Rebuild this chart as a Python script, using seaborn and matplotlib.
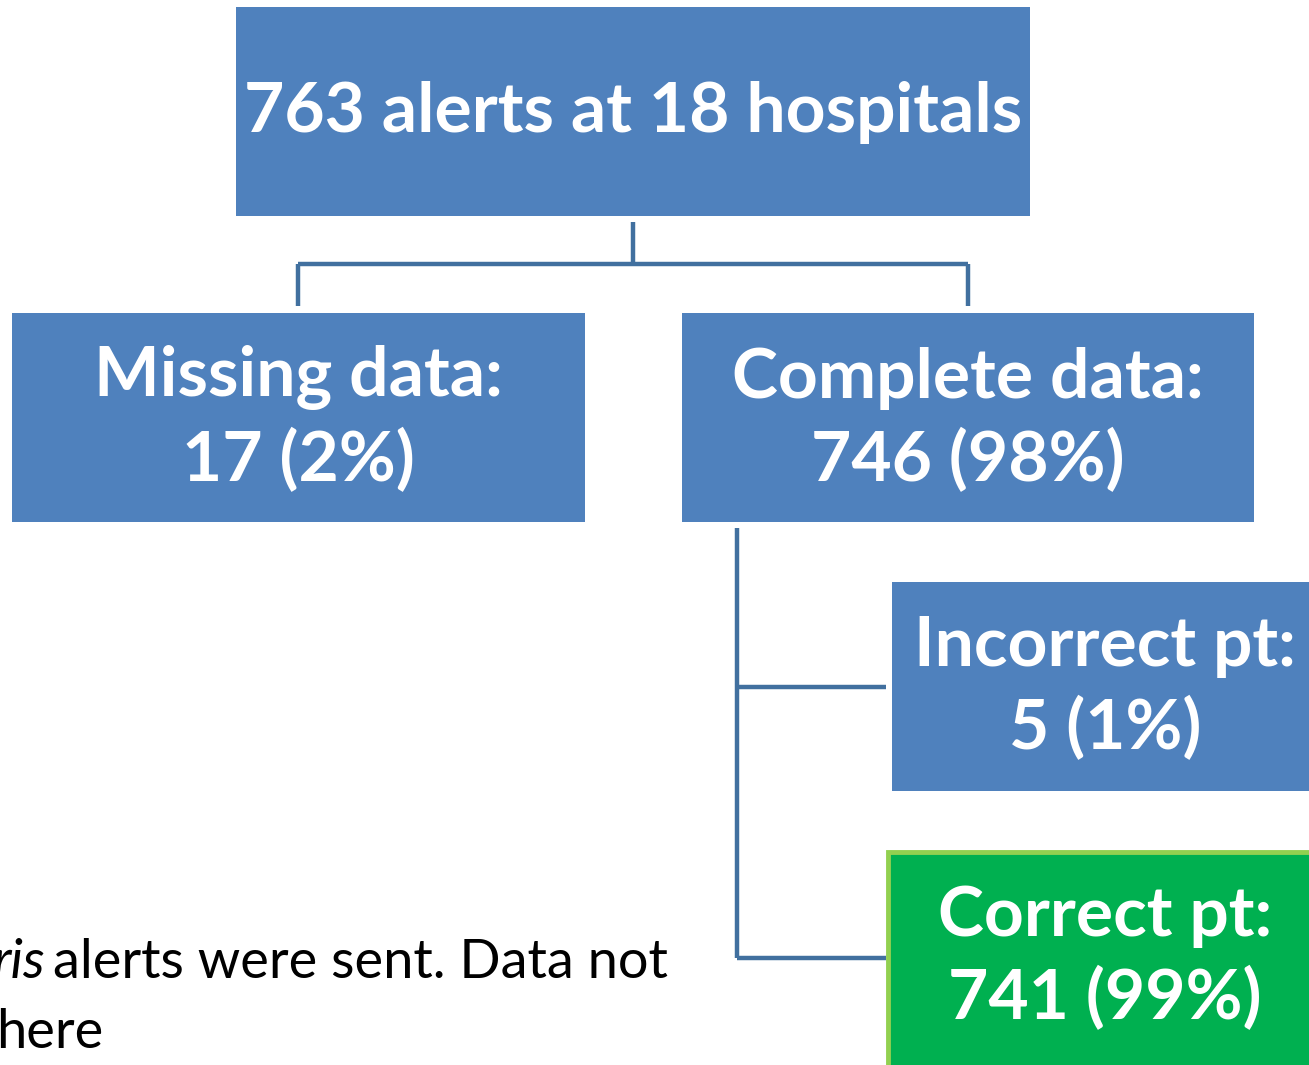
import matplotlib
matplotlib.use("Agg")
import matplotlib.pyplot as plt
from matplotlib.patches import Rectangle
import seaborn as sns

# flowchart values
node_labels = ["alerts at 18 hospitals", "Missing data:", "Complete data:", "Incorrect pt:", "Correct pt:"]
node_counts = [763, 17, 746, 5, 741]
node_pcts = [None, 2, 98, 1, 99]
footnote = ["ris", "alerts were sent. Data not", "here"]

sns.set_theme(style="white")
plt.rcParams['font.family'] = ['Lato', 'DejaVu Sans']

blue = "#4F81BD"
green = "#00B050"
line_col = "#41709F"

fig = plt.figure(figsize=(13.09, 10.65), dpi=100)
ax = fig.add_axes([0, 0, 1, 1])
ax.set_xlim(0, 1309)
ax.set_ylim(1065, 0)
ax.axis("off")

# box geometry (x0, y0, x1, y1) in pixels
boxes = [(236, 7, 1030, 216), (12, 313, 585, 522), (682, 313, 1254, 522),
         (892, 582, 1318, 791), (888, 852, 1318, 1075)]

fs = 50
for i, (x0, y0, x1, y1) in enumerate(boxes):
    if i == 4:
        ax.add_patch(Rectangle((x0, y0), x1 - x0, y1 - y0, facecolor=green,
                               edgecolor="#92D050", lw=3.5))
    else:
        ax.add_patch(Rectangle((x0, y0), x1 - x0, y1 - y0, facecolor=blue, lw=0))
    cx = (x0 + x1) / 2 if i < 3 else 1105
    if i == 0:
        ax.text(cx, 112, f"{node_counts[i]} {node_labels[i]}", ha="center", va="center",
                color="white", fontsize=fs, fontweight="bold")
    else:
        ax.text(cx, y0 + 65, node_labels[i], ha="center", va="center",
                color="white", fontsize=fs, fontweight="bold")
        ax.text(cx, y0 + 147, f"{node_counts[i]} ({node_pcts[i]}%)", ha="center", va="center",
                color="white", fontsize=fs, fontweight="bold")

# connectors
lw = 3.2
segs = [((633, 633), (222, 264)), ((298, 968), (264, 264)), ((298, 298), (264, 306)),
        ((968, 968), (264, 306)), ((737, 737), (528, 958)), ((737, 886), (687, 687)),
        ((737, 886), (958, 958))]
for xs, ys in segs:
    ax.plot(xs, ys, color=line_col, lw=lw, solid_capstyle="butt")

# footnote (clipped on the left in the original)
ax.text(-8, 962, footnote[0], ha="left", va="center", fontsize=39, style="italic", color="black")
ax.text(53, 962, footnote[1], ha="left", va="center", fontsize=39, color="black")
ax.text(-4, 1032, footnote[2], ha="left", va="center", fontsize=39, color="black")

fig.savefig("out.png", dpi=100)
